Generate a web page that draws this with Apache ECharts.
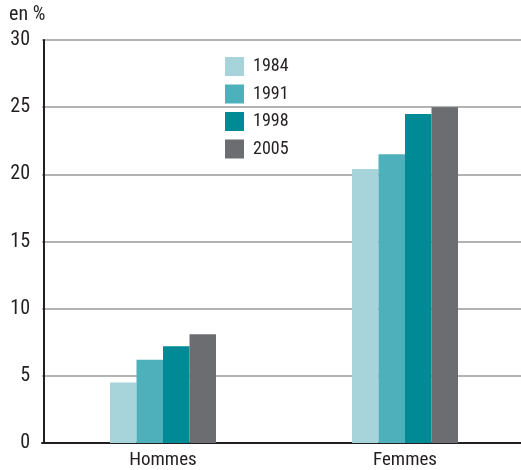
<!DOCTYPE html>
<html><head><meta charset="utf-8">
<script src="https://cdn.jsdelivr.net/npm/echarts@6/dist/echarts.min.js"></script>
<style>html,body{margin:0;padding:0;background:#fff;overflow:hidden}#c{width:530px;height:470px}</style>
</head><body><div id="c"></div>
<script>
const categories = ['Hommes', 'Femmes'];
const years = ['1984', '1991', '1998', '2005'];
const v1984 = [4.5, 20.4];
const v1991 = [6.2, 21.5];
const v1998 = [7.2, 24.5];
const v2005 = [8.1, 25.0];
const yTicks = [0, 5, 10, 15, 20, 25, 30];
const colors = ['#a6d4da', '#4eb0bb', '#008a96', '#6b6d71'];
const values = [v1984, v1991, v1998, v2005];
const FONT = '"Liberation Sans Narrow", "Roboto Condensed", "Liberation Sans", sans-serif';

const chart = echarts.init(document.getElementById('c'), null, {renderer: 'canvas'});
chart.setOption({
  animation: false,
  textStyle: {fontFamily: FONT},
  grid: {left: 42, right: 4, top: 40, bottom: 26, containLabel: false},
  legend: {
    orient: 'vertical', left: 225, top: 57, padding: 0,
    itemWidth: 19, itemHeight: 19, itemGap: 8.5,
    icon: 'rect',
    textStyle: {fontFamily: FONT, fontSize: 18, color: '#231f20', padding: [0, 0, 0, 4]},
    data: years
  },
  graphic: [{type: 'text', left: 9, top: 5, style: {text: 'en %', font: '20px ' + FONT, fill: '#231f20'}}],
  xAxis: {
    type: 'category', data: categories,
    axisLine: {lineStyle: {color: '#231f20', width: 2}},
    axisTick: {show: false},
    axisLabel: {fontSize: 19, color: '#231f20', fontFamily: FONT, margin: 8}
  },
  yAxis: {
    type: 'value', min: yTicks[0], max: yTicks[yTicks.length - 1], interval: 5,
    offset: -2,
    axisLine: {show: true, lineStyle: {color: '#231f20', width: 2}},
    axisTick: {show: false},
    axisLabel: {fontSize: 20, color: '#231f20', fontFamily: FONT, margin: 14},
    splitLine: {lineStyle: {color: '#b3b3b3', width: 2}}
  },
  series: years.map((y, i) => ({
    name: y, type: 'bar', data: values[i],
    itemStyle: {color: colors[i]},
    barWidth: 26.5, barGap: '0%', z: 3
  }))
});
</script></body></html>
